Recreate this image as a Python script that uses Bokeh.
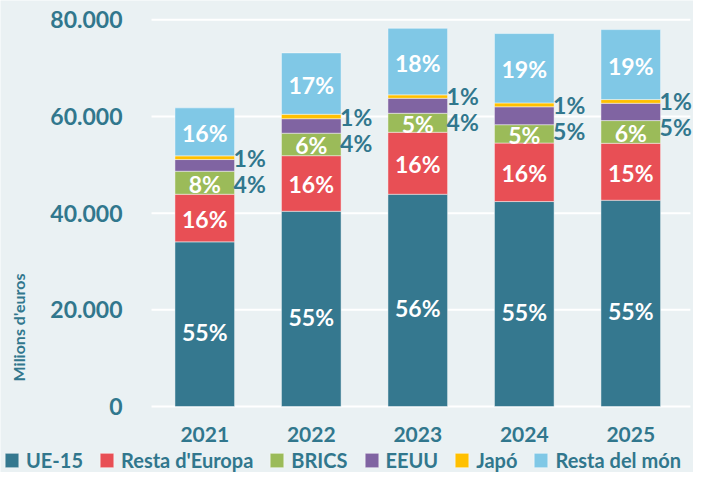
import math
from bokeh.plotting import figure
from bokeh.models import (ColumnDataSource, Range1d, FixedTicker,
                          Legend, LegendItem, LabelSet, Label)
from bokeh.core.properties import value
from bokeh.embed import file_html
from bokeh.resources import INLINE

# ---- data (millions of euros) ----
years = ["2021", "2022", "2023", "2024", "2025"]
series = ["UE-15", "Resta d'Europa", "BRICS", "EEUU", "Japó", "Resta del món"]
ue15 = [34060, 40390, 43910, 42400, 42670]
resta_europa = [9850, 11500, 12820, 12100, 11780]
brics = [4760, 4650, 3930, 3800, 4700]
eeuu = [2420, 3000, 3100, 3700, 3580]
japo = [760, 910, 710, 800, 770]
resta_mon = [9930, 12700, 13770, 14350, 14470]
y_ticks = [0, 20000, 40000, 60000, 80000]
y_tick_labels = ["0", "20.000", "40.000", "60.000", "80.000"]

colors = ["#35788F", "#E84F55", "#9BBB59", "#8064A2", "#FFC000", "#80C8E6"]
TEAL = "#31778D"
BG = "#EAF1F3"
FONT = "Lato"

vals = [ue15, resta_europa, brics, eeuu, japo, resta_mon]
keys = ["s%d" % i for i in range(len(series))]
xpos = list(range(len(years)))
data = {"x": xpos}
totals = [sum(v[j] for v in vals) for j in range(len(years))]
cum = [0] * len(years)
for i, v in enumerate(vals):
    data[keys[i]] = v
    data["mid%d" % i] = [cum[j] + v[j] / 2 for j in range(len(years))]
    cum = [cum[j] + v[j] for j in range(len(years))]
    data["top%d" % i] = list(cum)
    data["pct%d" % i] = ["%d%%" % round(v[j] / totals[j] * 100) for j in range(len(years))]
src = ColumnDataSource(data)

# the frame covers the whole canvas; axes are pinned inside it
X_LEFT, X_GRID_END = -0.5, 4.56
p = figure(x_range=Range1d(-1.918, 4.589), y_range=Range1d(-13650, 83990),
           width=693, height=472, output_backend="svg", toolbar_location=None,
           min_border_left=0, min_border_right=0, min_border_top=0, min_border_bottom=0)
p.background_fill_color = BG
p.border_fill_color = BG
p.outline_line_color = None
p.grid.grid_line_color = None

# horizontal gridlines at the tick values
p.segment(x0=X_LEFT, x1=X_GRID_END, y0=y_ticks, y1=y_ticks, line_color="white", line_width=2)

rs = p.vbar_stack(keys, x="x", width=0.56, color=colors, source=src,
                  line_color="white", line_alpha=0.45, line_width=1)

# axes
p.yaxis.fixed_location = X_LEFT
p.xaxis.fixed_location = -414
p.yaxis.ticker = FixedTicker(ticks=y_ticks)
p.yaxis.major_label_overrides = {t: l for t, l in zip(y_ticks, y_tick_labels)}
p.xaxis.ticker = FixedTicker(ticks=xpos)
p.xaxis.major_label_overrides = {x: y for x, y in zip(xpos, years)}
for ax in (p.xaxis[0], p.yaxis[0]):
    ax.axis_line_color = None
    ax.major_tick_line_color = None
    ax.minor_tick_line_color = None
    ax.major_label_text_font = FONT
    ax.major_label_text_font_style = "bold"
    ax.major_label_text_color = TEAL
p.yaxis.major_label_text_font_size = "23px"
p.yaxis.major_label_standoff = 23
p.xaxis.major_label_text_font_size = "21px"
p.xaxis.major_label_standoff = 12

# inner labels
for i in (0, 1, 2, 5):
    p.text(x="x", y="mid%d" % i, text="pct%d" % i, source=src,
           text_font=value(FONT), text_font_style="bold", text_font_size="23px",
           text_color="white", text_align="center", text_baseline="middle",
           y_offset=8 if i == 0 else 1)

# outer labels (EEUU, Japó)
for i, off in ((4, 2), (3, -24)):
    p.add_layout(LabelSet(x="x", y="top3", text="pct%d" % i, source=src,
                          x_offset=61, y_offset=off, text_align="right",
                          text_baseline="middle", text_font=value(FONT),
                          text_font_style="bold", text_font_size="23px",
                          text_color=TEAL))

# y axis title
p.add_layout(Label(x=18, y=145, x_units="screen", y_units="screen",
                   text="Milions d'euros", angle=math.pi / 2, text_align="center",
                   text_baseline="middle", text_font=FONT, text_font_style="bold",
                   text_font_size="16px", text_color=TEAL))

legend = Legend(items=[LegendItem(label=s, renderers=[r]) for s, r in zip(series, rs)],
                orientation="horizontal", location=(3, 0),
                label_text_font=FONT, label_text_font_style="bold",
                label_text_font_size="20px", label_text_color=TEAL,
                glyph_width=17, glyph_height=18, label_standoff=6, spacing=15,
                padding=0, margin=0, border_line_color=None, background_fill_alpha=0)
p.add_layout(legend, "center")

open("out.html", "w").write(file_html(p, INLINE))
